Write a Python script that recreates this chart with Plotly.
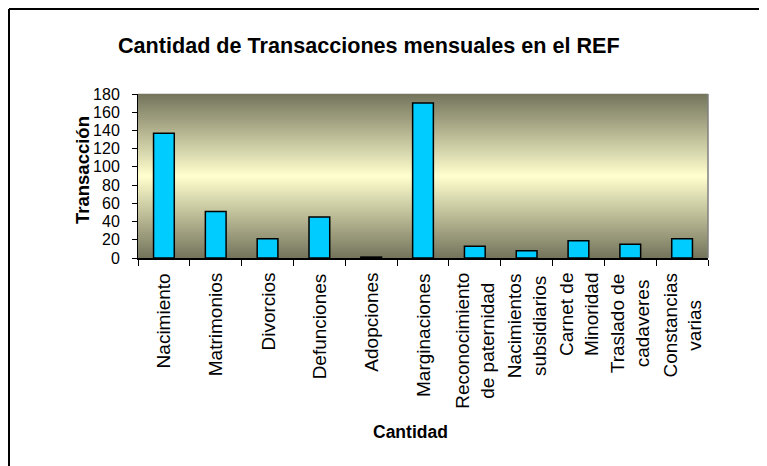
import plotly.graph_objects as go

categories = ["Nacimiento", "Matrimonios", "Divorcios", "Defunciones", "Adopciones",
              "Marginaciones", "Reconocimiento<br>de paternidad", "Nacimientos<br>subsidiarios",
              "Carnet de<br>Minoridad", "Traslado de<br>cadaveres", "Constancias<br>varias"]
values = [137, 51, 21, 45, 1, 170, 13, 8, 19, 15, 21]
y_ticks = [0, 20, 40, 60, 80, 100, 120, 140, 160, 180]

title_text = "Cantidad de Transacciones mensuales en el REF"
x_title = "Cantidad"
y_title = "Transacción"

OFF = 8  # page body margin
W, H = 767 - OFF, 466 - OFF
L, R, T, B = 138, 708, 94, 258  # plot area in screenshot pixels
FONT = "Liberation Sans, Arial, sans-serif"

def px_x(px):
    return (px - L) / (R - L)

def px_y(py):
    return (B - py) / (B - T)

fig = go.Figure()
fig.add_trace(go.Bar(
    x=categories, y=values,
    marker=dict(color="#00CCFF", line=dict(color="#000000", width=1.5)),
    width=0.4,
))

shapes = []
top_c = (116, 116, 92)
mid_c = (255, 255, 206)
n = 82
for i in range(n):
    f0 = i / n
    f1 = (i + 1) / n
    fm = (f0 + f1) / 2
    t = abs(fm - 0.5) / 0.5
    c = tuple(int(round(mid_c[k] + (top_c[k] - mid_c[k]) * t)) for k in range(3))
    shapes.append(dict(type="rect", xref="x domain", yref="y domain",
                       x0=0, x1=1, y0=f0, y1=f1 + 0.002, layer="below",
                       line=dict(width=0), fillcolor="rgb(%d,%d,%d)" % c))
shapes.append(dict(type="line", xref="x domain", yref="y domain", x0=1, x1=1, y0=0, y1=1,
                   line=dict(color="#808080", width=1.5)))
# outer chart border (left and top)
shapes.append(dict(type="line", xref="paper", yref="paper",
                   x0=px_x(9), x1=px_x(9), y0=px_y(9), y1=px_y(480),
                   line=dict(color="#000000", width=2)))
shapes.append(dict(type="line", xref="paper", yref="paper",
                   x0=px_x(9), x1=px_x(790), y0=px_y(9), y1=px_y(9),
                   line=dict(color="#000000", width=2)))

annotations = []
for cat in categories:
    annotations.append(dict(x=cat, xref="x", y=px_y(271), yref="paper",
                            text=cat, textangle=-90, showarrow=False,
                            xanchor="center", yanchor="top", align="center",
                            font=dict(family=FONT, size=19, color="#000000")))
annotations.append(dict(x=px_x(369), y=px_y(46), xref="paper", yref="paper",
                        text="<b>%s</b>" % title_text, showarrow=False,
                        xanchor="center", yanchor="middle",
                        font=dict(family=FONT, size=21.6, color="#000000")))
annotations.append(dict(x=px_x(410), y=px_y(432), xref="paper", yref="paper",
                        text="<b>%s</b>" % x_title, showarrow=False,
                        xanchor="center", yanchor="middle",
                        font=dict(family=FONT, size=17.5, color="#000000")))
annotations.append(dict(x=px_x(82), y=px_y(170), xref="paper", yref="paper",
                        text="<b>%s</b>" % y_title, showarrow=False, textangle=-90,
                        xanchor="center", yanchor="middle",
                        font=dict(family=FONT, size=18.5, color="#000000")))

fig.update_layout(
    width=W, height=H,
    margin=dict(l=L - OFF, r=W - (R - OFF), t=T - OFF, b=H - (B - OFF), autoexpand=False),
    paper_bgcolor="#FFFFFF", plot_bgcolor="#FFFFCC",
    showlegend=False, bargap=0.6,
    shapes=shapes, annotations=annotations,
    font=dict(family=FONT, color="#000000"),
)
fig.update_xaxes(type="category", showticklabels=False, ticks="outside", ticklen=6,
                 tickson="boundaries", tickcolor="#000000", tickwidth=1,
                 showline=True, linecolor="#000000", linewidth=1.5,
                 showgrid=False, zeroline=False, range=[-0.5, len(categories) - 0.5])
fig.update_yaxes(range=[0, 180], tickvals=y_ticks, ticktext=[str(v) for v in y_ticks],
                 ticks="outside", ticklen=5, tickcolor="#000000", tickwidth=1,
                 showline=True, linecolor="#000000", linewidth=1,
                 showgrid=False, zeroline=False, ticklabelstandoff=9,
                 tickfont=dict(family=FONT, size=16, color="#000000"))

fig.write_html("out.html")
